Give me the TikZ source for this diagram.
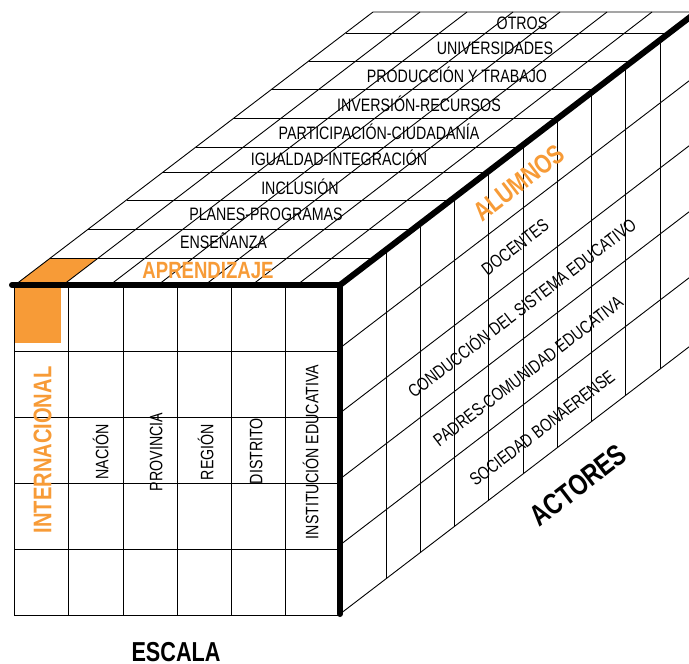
\documentclass[tikz,border=0pt]{standalone}
\usepackage{fontspec}
\setmainfont{Liberation Sans}[FakeStretch=0.79]
\definecolor{org}{RGB}{247,155,55}
\newcommand\fsz[1]{\fontsize{#1}{#1}\selectfont}
\begin{document}
\begin{tikzpicture}[x=1pt,y=-1pt,
  gridline/.style={line width=0.9pt, black},
  edge/.style={line width=6pt, line cap=round, line join=miter},
  lab/.style={inner sep=0pt, text depth=0pt, text height=12.9pt, font=\fsz{18}},
  oblab/.style={lab, rotate=37.5},
  vlab/.style={lab, rotate=90}]
\path[use as bounding box] (0,0) rectangle (689,664);
\clip (0,0) rectangle (689,664);

% ---------- front face ----------
\fill[org] (14,285) rectangle (61,343);
\draw[gridline] (14,285) rectangle (340,615);
\foreach \x in {68,123,177,231,285} \draw[gridline] (\x,285) -- (\x,615);
\foreach \y in {351,417,483,549} \draw[gridline] (14,\y) -- (340,\y);

% ---------- top face ----------
\fill[org] (15,285) -- (63,285) -- (98.3,258) -- (50.4,258) -- cycle;
\draw[gridline] (15,285) -- (373,12) -- (700,12);
\foreach \a/\b in {63/420,110/467,158/513,205/560,252/607,297/652}
  \draw[gridline] (\a,285) -- (\b,12);
\foreach \y/\l/\r in {258/50.4/374.0, 229/88.4/411.9, 200/126.5/449.7,
  172/163.2/486.3, 147/196.0/519.0, 118/234.0/556.9, 89/272.0/594.8,
  61/308.8/631.4, 33/345.5/667.9}
  \draw[gridline] (\l,\y) -- (\r,\y);

% ---------- right face ----------
\foreach \y in {348,413,479,545,614}
  \draw[gridline] (340,\y) -- (720,{\y-380*0.7654});
\foreach \x in {386,420,454,488,523,557,591,625,660}
  \draw[gridline] (\x,{284-(\x-340)*0.7654}) -- (\x,{614-(\x-340)*0.7654});

% ---------- thick edges ----------
\draw[edge] (12,285) -- (340,285) -- (340,614);
\draw[edge] (340,285) -- (720,{285-380*0.7654});

% ---------- top labels ----------
\node[lab, font=\bfseries\fsz{23.5}, text height=16.8pt, text=org] (aprend) at (208,270.3) {APRENDIZAJE};
\node[lab] (ensen) at (223.5,242.5) {ENSEÑANZA};
\node[lab] (planes) at (266,214) {PLANES-PROGRAMAS};
\node[lab] (inclu) at (300,188) {INCLUSIÓN};
\node[lab] (igual) at (339,159.5) {IGUALDAD-INTEGRACIÓN};
\node[lab] (partic) at (379,133) {PARTICIPACIÓN-CIUDADANÍA};
\node[lab] (invers) at (419,105) {INVERSIÓN-RECURSOS};
\node[lab] (produc) at (457,76) {PRODUCCIÓN Y TRABAJO};
\node[lab] (univ) at (495,48.3) {UNIVERSIDADES};
\node[lab] (otros) at (522,23) {OTROS};

% ---------- front labels ----------
\node[vlab, font=\bfseries\fsz{25.5}, text height=18.3pt, text=org] (intern) at (42.2,450) {INTERNACIONAL};
\node[vlab] (nacion) at (102,452) {NACIÓN};
\node[vlab] (provin) at (156,452) {PROVINCIA};
\node[vlab] (region) at (207,452) {REGIÓN};
\node[vlab] (distr) at (256,451) {DISTRITO};
\node[vlab] (instit) at (312,452) {INSTITUCIÓN EDUCATIVA};

% ---------- right labels ----------
\node[oblab, font=\bfseries\fsz{26.7}, text height=19.1pt, text=org] (alumnos) at (518.5,182.5) {ALUMNOS};
\node[oblab] (docen) at (515,247) {DOCENTES};
\node[oblab] (conduc) at (522,308) {CONDUCCIÓN DEL SISTEMA EDUCATIVO};
\node[oblab] (padres) at (528,371) {PADRES-COMUNIDAD EDUCATIVA};
\node[oblab] (socied) at (542,428) {SOCIEDAD BONAERENSE};

% ---------- axis titles ----------
\node[oblab, font=\bfseries\fsz{29.4}, text height=21pt] (actores) at (578,485) {ACTORES};
\node[lab, font=\bfseries\fsz{27.4}, text height=19.6pt] (escala) at (176,652) {ESCALA};
\end{tikzpicture}
\end{document}
